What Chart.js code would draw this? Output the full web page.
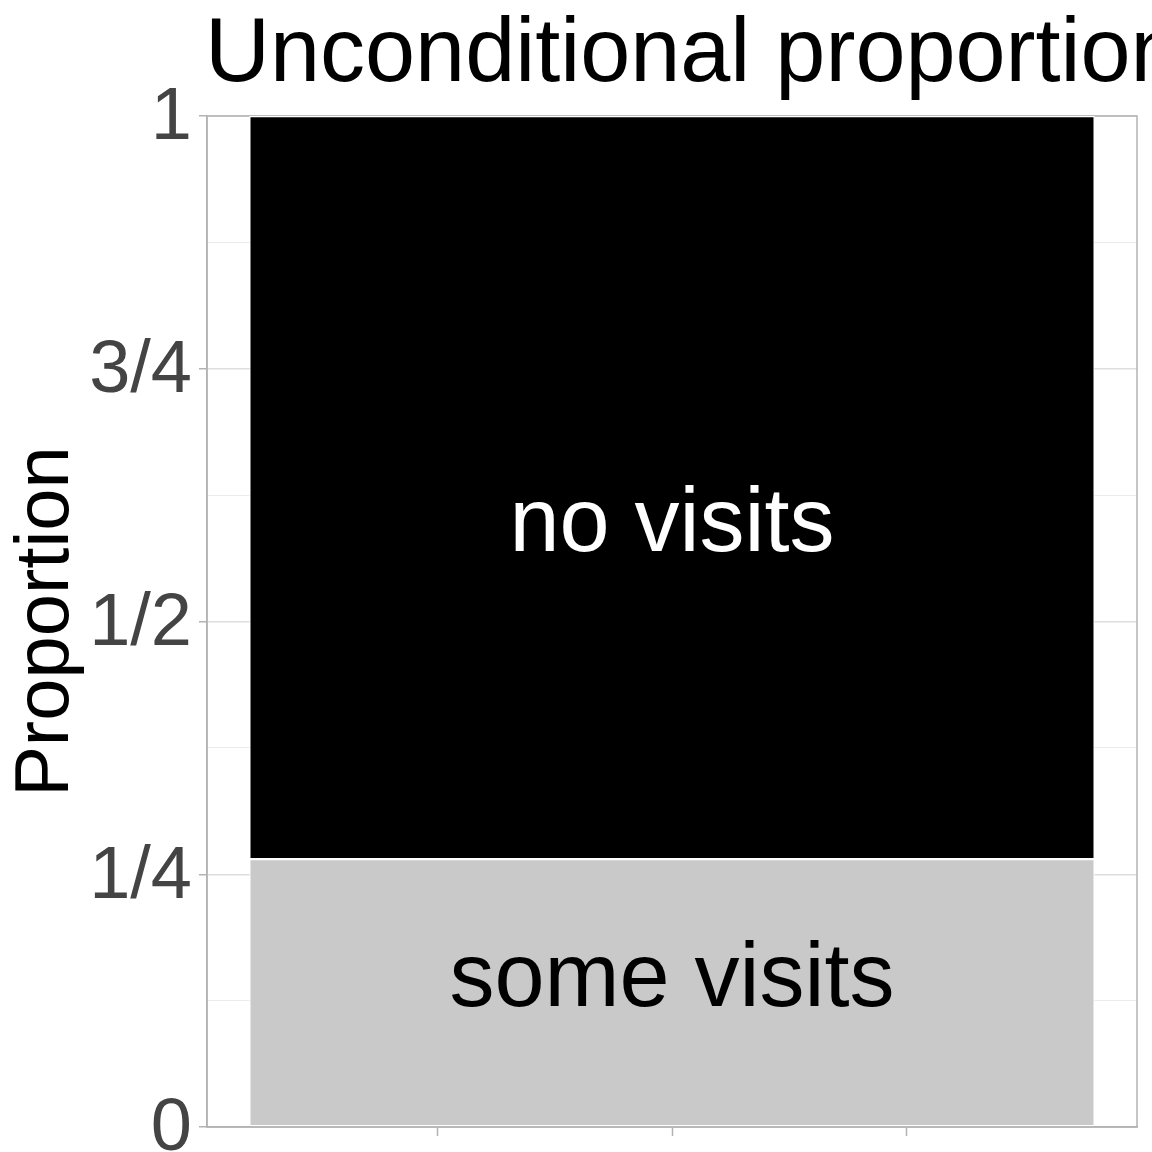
<!DOCTYPE html>
<html>
<head>
<meta charset="utf-8">
<script src="https://cdn.jsdelivr.net/npm/chart.js@4"></script>
<style>
  html, body { margin: 0; padding: 0; background: #fff; }
  #wrap { width: 1152px; height: 1152px; }
</style>
</head>
<body>
<div id="wrap"><canvas id="propChart"></canvas></div>
<script>
const categories = ["all"];
const segmentNames = ["some visits", "no visits"];
const someVisits = [0.265];
const noVisits = [0.735];
const labelY = [0.144, 0.594];
const tickValues = [0, 0.125, 0.25, 0.375, 0.5, 0.625, 0.75, 0.875, 1];
const tickLabels = ["0", "", "1/4", "", "1/2", "", "3/4", "", "1"];
const xTickValues = [0.75, 1, 1.25];

const FONT = "'Liberation Sans', Arial, sans-serif";
const isMajor = (v) => Math.abs(v * 4 - Math.round(v * 4)) < 1e-6;

// title is drawn by hand so it can run past the right edge like the original
const titlePlugin = {
    id: "plotTitle",
    afterDraw(chart) {
        const ctx = chart.ctx;
        ctx.save();
        ctx.font = "90px " + FONT;
        ctx.fillStyle = "#000";
        ctx.textAlign = "left";
        ctx.textBaseline = "alphabetic";
        ctx.fillText("Unconditional proportion", chart.chartArea.left - 2, 81);
        ctx.restore();
    },
};

const panelBorder = {
    id: "panelBorder",
    beforeDatasetsDraw(chart) {
        const { ctx, chartArea: a } = chart;
        ctx.save();
        ctx.strokeStyle = "#b3b3b3";
        ctx.lineWidth = 1.5;
        ctx.strokeRect(a.left, a.top, a.right - a.left, a.bottom - a.top);
        ctx.restore();
    },
};

const segmentLabels = {
    id: "segmentLabels",
    afterDatasetsDraw(chart) {
        const ctx = chart.ctx;
        const y = chart.scales.y;
        ctx.save();
        ctx.font = "90px " + FONT;
        ctx.textAlign = "center";
        ctx.textBaseline = "middle";
        chart.data.datasets.forEach((ds, i) => {
            const bar = chart.getDatasetMeta(i).data[0];
            ctx.fillStyle = ds.textColor;
            ctx.fillText(ds.label, bar.x, y.getPixelForValue(labelY[i]));
        });
        ctx.restore();
    },
};

new Chart(document.getElementById("propChart"), {
    type: "bar",
    data: {
        labels: categories,
        datasets: [
            {
                label: segmentNames[0],
                data: someVisits,
                backgroundColor: "#c9c9c9",
                textColor: "#000",
            },
            {
                label: segmentNames[1],
                data: noVisits,
                backgroundColor: "#000",
                textColor: "#fff",
            },
        ].map((ds) => ({
            ...ds,
            borderColor: "#fff",
            borderWidth: 1.2,
            borderSkipped: false,
            categoryPercentage: 1,
            barPercentage: 0.909,
        })),
    },
    options: {
        responsive: true,
        maintainAspectRatio: false,
        animation: false,
        devicePixelRatio: 1,
        layout: {
            padding: { left: 0, right: 15, top: 116, bottom: 0 },
        },
        plugins: {
            legend: { display: false },
            tooltip: { enabled: false },
            title: { display: false },
        },
        scales: {
            x: {
                stacked: true,
                display: false,
            },
            x2: {
                type: "linear",
                position: "bottom",
                offset: false,
                min: 0.505,
                max: 1.495,
                afterBuildTicks: (scale) => {
                    scale.ticks = xTickValues.map((v) => ({ value: v }));
                },
                afterFit: (scale) => {
                    scale.height = 25;
                    scale.paddingLeft = 0;
                    scale.paddingRight = 0;
                },
                ticks: {
                    callback: () => "",
                    padding: 0,
                    autoSkip: false,
                },
                grid: {
                    offset: false,
                    drawOnChartArea: false,
                    tickLength: 9,
                    tickColor: "#b3b3b3",
                    tickWidth: 1.5,
                },
                border: { display: true, color: "#b3b3b3", width: 1.5 },
            },
            y: {
                stacked: true,
                min: 0,
                max: 1,
                afterBuildTicks: (scale) => {
                    scale.ticks = tickValues.map((v) => ({ value: v }));
                },
                afterFit: (scale) => {
                    scale.width = 207;
                    scale.paddingTop = 0;
                    scale.paddingBottom = 0;
                },
                ticks: {
                    callback: (value, i) => tickLabels[i],
                    color: "#444444",
                    font: { family: FONT, size: 74 },
                    padding: 7,
                    labelOffset: 3,
                    autoSkip: false,
                },
                grid: {
                    color: (c) => (isMajor(c.tick.value) ? "#dedede" : "#ebebeb"),
                    lineWidth: (c) => (isMajor(c.tick.value) ? 1.5 : 1),
                    tickColor: (c) =>
                        isMajor(c.tick.value) ? "#b3b3b3" : "rgba(0,0,0,0)",
                    tickLength: 8,
                },
                border: { display: true, color: "#b3b3b3", width: 1.5 },
                title: {
                    display: true,
                    text: "Proportion",
                    color: "#000",
                    font: { family: FONT, size: 76, lineHeight: 1.2 },
                    padding: { top: 1, bottom: 0 },
                },
            },
        },
    },
    plugins: [panelBorder, segmentLabels, titlePlugin],
});
</script>
</body>
</html>
